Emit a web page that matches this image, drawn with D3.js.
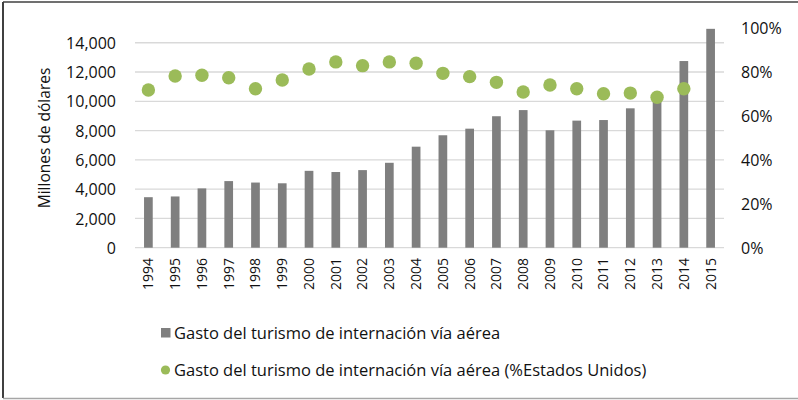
<!DOCTYPE html>
<html>
<head>
<meta charset="utf-8">
<script src="https://cdn.jsdelivr.net/npm/d3@7"></script>
<style>
  body { margin: 0; background: #fff; }
  text { font-family: "Open Sans", sans-serif; fill: #111; }
</style>
</head>
<body>
<script>
var years = ["1994","1995","1996","1997","1998","1999","2000","2001","2002","2003","2004",
             "2005","2006","2007","2008","2009","2010","2011","2012","2013","2014","2015"];
var gasto = [3450, 3500, 4050, 4550, 4450, 4400, 5250, 5170, 5300, 5800, 6900,
             7680, 8130, 8980, 9400, 8020, 8680, 8720, 9520, 10050, 12750, 14950];
var pctEEUU = [71.8, 78.2, 78.5, 77.4, 72.4, 76.4, 81.4, 84.6, 82.9, 84.6, 84.0,
               79.4, 77.9, 75.3, 70.9, 74.1, 72.4, 70.1, 70.4, 68.5, 72.4];
var leftTicks = [0, 2000, 4000, 6000, 8000, 10000, 12000, 14000];
var rightTicks = [0, 20, 40, 60, 80, 100];
var legendLabels = ["Gasto del turismo de internación vía aérea",
                    "Gasto del turismo de internación vía aérea (%Estados Unidos)"];

var width = 798, height = 400;
var barColor = "#7f7f7f", dotColor = "#9bbb59", gridColor = "#d9d9d9";

var svg = d3.select("body").append("svg")
    .attr("width", width)
    .attr("height", height);

// frame
svg.append("line").attr("x1", 3).attr("x2", 3).attr("y1", 2).attr("y2", 398)
    .attr("stroke", "#404040").attr("stroke-width", 2);
svg.append("line").attr("x1", 3).attr("x2", width).attr("y1", 2).attr("y2", 2)
    .attr("stroke", "#404040").attr("stroke-width", 1.5);
svg.append("line").attr("x1", 3).attr("x2", width).attr("y1", 398.5).attr("y2", 398.5)
    .attr("stroke", "#a6a6a6").attr("stroke-width", 1.5);

var x0 = 135, x1 = 724, yTop = 28.1, yBase = 247.7;

var xScale = d3.scaleBand().domain(years).range([x0, x1]).padding(0);
var yScale = d3.scaleLinear().domain([0, 15000]).range([yBase, yTop]);
var yRight = d3.scaleLinear().domain([0, 100]).range([yBase, yTop]);
var barW = 8.7;

// gridlines
svg.append("g").selectAll("line")
    .data(leftTicks)
    .enter().append("line")
    .attr("x1", x0).attr("x2", x1)
    .attr("y1", function(d) { return yScale(d); })
    .attr("y2", function(d) { return yScale(d); })
    .attr("stroke", gridColor)
    .attr("stroke-width", 1.3);

// left axis
var gl = svg.append("g")
    .attr("transform", "translate(" + 116 + ",0)")
    .call(d3.axisLeft(yScale).tickValues(leftTicks).tickSize(0).tickPadding(0)
        .tickFormat(d3.format(",")));
gl.select(".domain").remove();
gl.selectAll("text").attr("font-size", 16).attr("dy", "0.35em");

// right axis
var gr = svg.append("g")
    .attr("transform", "translate(" + 741 + ",0)")
    .call(d3.axisRight(yRight).tickValues(rightTicks).tickSize(0).tickPadding(0)
        .tickFormat(function(d) { return d + "%"; }));
gr.select(".domain").remove();
gr.selectAll("text").attr("font-size", 16).attr("dy", "0.35em");

// x axis labels
var gx = svg.append("g")
    .attr("transform", "translate(0," + 258 + ")")
    .call(d3.axisBottom(xScale).tickSize(0).tickPadding(0));
gx.select(".domain").remove();
gx.selectAll("text")
    .attr("font-size", 14)
    .attr("transform", "rotate(-90)")
    .attr("text-anchor", "end")
    .attr("x", 0).attr("y", 0).attr("dy", "0.35em");

// y title
svg.append("text")
    .attr("transform", "translate(" + 45 + "," + 138 + ") rotate(-90)")
    .attr("text-anchor", "middle")
    .attr("dy", "0.35em")
    .attr("font-size", 15.5)
    .text("Millones de dólares");

// bars
svg.append("g").selectAll(".bar")
    .data(gasto)
    .enter().append("rect")
    .attr("class", "bar")
    .attr("x", function(d, i) { return xScale(years[i]) + xScale.bandwidth() / 2 - barW / 2; })
    .attr("y", function(d) { return yScale(d); })
    .attr("width", barW)
    .attr("height", function(d) { return yBase - yScale(d); })
    .attr("fill", barColor);

// dots
svg.append("g").selectAll(".dot")
    .data(pctEEUU)
    .enter().append("circle")
    .attr("class", "dot")
    .attr("cx", function(d, i) { return xScale(years[i]) + xScale.bandwidth() / 2; })
    .attr("cy", function(d) { return yRight(d); })
    .attr("r", 6.7)
    .attr("fill", dotColor);

// legend
var lg = svg.append("g");
lg.append("rect").attr("x", 161).attr("y", 328).attr("width", 9.5).attr("height", 9.5)
    .attr("fill", barColor);
lg.append("text").attr("x", 174).attr("y", 333).attr("dy", "0.35em")
    .attr("font-size", 16.5).text(legendLabels[0]);
lg.append("circle").attr("cx", 165.5).attr("cy", 370).attr("r", 4.6).attr("fill", dotColor);
lg.append("text").attr("x", 174).attr("y", 370).attr("dy", "0.35em")
    .attr("font-size", 16.5).text(legendLabels[1]);
</script>
</body>
</html>
